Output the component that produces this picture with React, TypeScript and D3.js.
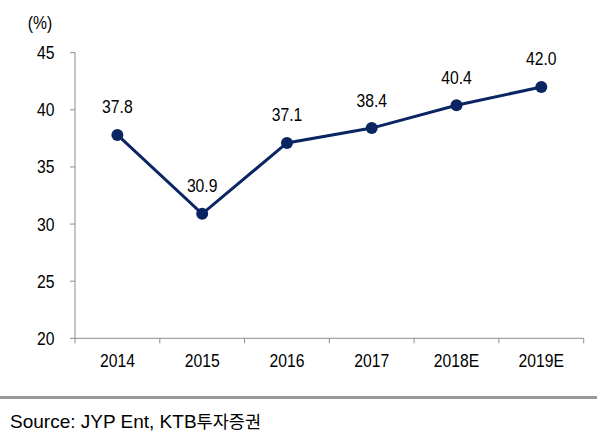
import React from "react";
import * as d3 from "d3";

const categories = ["2014", "2015", "2016", "2017", "2018E", "2019E"];
const values = [37.8, 30.9, 37.1, 38.4, 40.4, 42.0];
const yTicks = [20, 25, 30, 35, 40, 45];

const W = 597, H = 444;
const left = 75, right = 583.7, top = 52.7, bottom = 338.3;
const navy = "#0b2563";
const axisColor = "#8c8c8c";
const font = "'Liberation Sans', Arial, sans-serif";

function Txt({ x, y, anchor = "middle", children }: { x: number; y: number; anchor?: string; children: React.ReactNode }) {
  return (
    <text
      transform={`translate(${x},${y}) scale(0.85,1)`}
      fontFamily={font}
      fontSize={18.5}
      textAnchor={anchor as any}
      fill="#000"
    >
      {children}
    </text>
  );
}

export default function App() {
  const x = d3.scaleBand<string>().domain(categories).range([left, right]).padding(0);
  const y = d3.scaleLinear().domain([20, 45]).range([bottom, top]);
  const cx = (c: string) => (x(c) as number) + x.bandwidth() / 2;
  const line = d3.line<number>().x((_, i) => cx(categories[i])).y((v) => y(v));
  const xTickPos = [...categories.map((c) => x(c) as number), right];

  return (
    <svg width={W} height={H} style={{ position: "absolute", left: 0, top: 0, background: "#fff" }}>
      <Txt x={40} y={29}>(%)</Txt>
      {/* y axis */}
      <line x1={left} x2={left} y1={top} y2={bottom} stroke={axisColor} strokeWidth={1} />
      {yTicks.map((t) => (
        <g key={t}>
          <line x1={left - 5} x2={left} y1={y(t)} y2={y(t)} stroke={axisColor} strokeWidth={1} />
          <Txt x={54.5} y={y(t) + 6.5} anchor="end">{t}</Txt>
        </g>
      ))}
      {/* x axis */}
      <line x1={left} x2={right} y1={bottom} y2={bottom} stroke={axisColor} strokeWidth={1} />
      {xTickPos.map((p, i) => (
        <line key={i} x1={p} x2={p} y1={bottom} y2={bottom + 5} stroke={axisColor} strokeWidth={1} />
      ))}
      {categories.map((c) => (
        <Txt key={c} x={cx(c)} y={367}>{c}</Txt>
      ))}
      {/* line */}
      <path d={line(values) || ""} fill="none" stroke={navy} strokeWidth={3} />
      {values.map((v, i) => (
        <g key={i}>
          <circle cx={cx(categories[i])} cy={y(v)} r={6} fill={navy} />
          <Txt x={cx(categories[i])} y={y(v) - 21.5}>{v.toFixed(1)}</Txt>
        </g>
      ))}
      {/* footer */}
      <rect x={0} y={396} width={W} height={3} fill="#9a9a9a" />
      <text x={10} y={428} fontFamily={font} fontSize={19} fill="#000">
        Source: JYP Ent, KTB
        <tspan fontFamily="'Noto Sans CJK KR', sans-serif" fontSize={17.5}>투자증권</tspan>
      </text>
    </svg>
  );
}
